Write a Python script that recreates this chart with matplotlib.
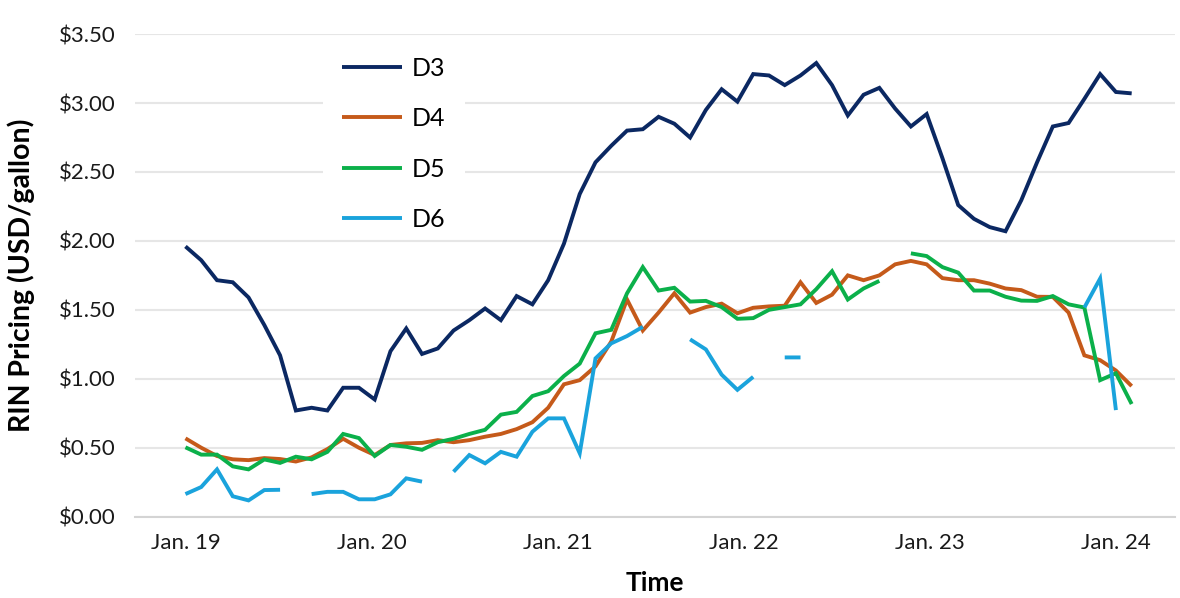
import numpy as np
import matplotlib
matplotlib.use("Agg")
import matplotlib.pyplot as plt
from matplotlib.patches import Rectangle

nan = np.nan

# monthly RIN prices, Jan 2019 .. Jan 2024 (USD/gallon)
d3 = [1.96, 1.86, 1.715, 1.70, 1.59, 1.39, 1.17, 0.77, 0.79, 0.77,
      0.935, 0.935, 0.85, 1.20, 1.365, 1.18, 1.22, 1.35, 1.425, 1.51,
      1.425, 1.60, 1.54, 1.715, 1.98, 2.34, 2.57, 2.69, 2.80, 2.81,
      2.90, 2.85, 2.75, 2.95, 3.10, 3.01, 3.21, 3.20, 3.13, 3.20,
      3.29, 3.13, 2.91, 3.06, 3.11, 2.96, 2.83, 2.92, 2.60, 2.26,
      2.16, 2.10, 2.07, 2.295, 2.57, 2.83, 2.855, 3.03, 3.21, 3.08,
      3.07]
d4 = [0.568, 0.50, 0.44, 0.416, 0.41, 0.425, 0.418, 0.40, 0.43, 0.49,
      0.565, 0.50, 0.447, 0.52, 0.532, 0.535, 0.555, 0.54, 0.555, 0.58,
      0.60, 0.635, 0.685, 0.79, 0.96, 0.99, 1.09, 1.27, 1.575, 1.35,
      1.48, 1.62, 1.48, 1.52, 1.545, 1.475, 1.515, 1.525, 1.53, 1.70,
      1.55, 1.61, 1.75, 1.715, 1.75, 1.83, 1.855, 1.83, 1.73, 1.715,
      1.715, 1.69, 1.655, 1.643, 1.595, 1.594, 1.48, 1.17, 1.135, 1.06,
      0.947]
d5 = [0.503, 0.45, 0.45, 0.365, 0.343, 0.415, 0.39, 0.435, 0.416, 0.47,
      0.60, 0.57, 0.44, 0.52, 0.507, 0.485, 0.54, 0.565, 0.60, 0.63,
      0.74, 0.76, 0.875, 0.91, 1.02, 1.11, 1.33, 1.355, 1.62, 1.81,
      1.64, 1.66, 1.56, 1.565, 1.52, 1.435, 1.44, 1.50, 1.52, 1.54,
      1.65, 1.78, 1.575, 1.655, 1.71, nan, 1.91, 1.89, 1.81, 1.77,
      1.64, 1.64, 1.595, 1.567, 1.565, 1.60, 1.54, 1.517, 0.99, 1.04,
      0.817]
d6 = [0.164, 0.215, 0.343, 0.148, 0.118, 0.193, 0.195, nan, 0.164, 0.18,
      0.18, 0.126, 0.126, 0.162, 0.278, 0.254, nan, 0.326, 0.447, 0.387,
      0.47, 0.435, 0.616, 0.713, 0.713, 0.46, 1.148, 1.257, 1.31, 1.377,
      nan, nan, 1.286, 1.213, 1.03, 0.92, 1.014, nan, 1.155, 1.155,
      nan, nan, nan, nan, nan, nan, nan, nan, nan, nan,
      nan, nan, nan, nan, nan, nan, nan, 1.517, 1.727, 0.773,
      nan]

series = ["D3", "D4", "D5", "D6"]
colors = ["#0b2862", "#c55a1a", "#0bb04a", "#1aa3dc"]
tick_labels = ["Jan. 19", "Jan. 20", "Jan. 21", "Jan. 22", "Jan. 23", "Jan. 24"]
tick_pos = [0, 11.8, 23.6, 35.4, 47.2, 59.0]
y_ticks = [0, 0.5, 1.0, 1.5, 2.0, 2.5, 3.0, 3.5]

plt.rcParams['font.family'] = ['Lato', 'DejaVu Sans']

fig = plt.figure(figsize=(11.8, 5.98), dpi=100)
ax = fig.add_axes([0.1144, 0.136, 0.8814, 0.807])

months = np.arange(len(d3))
for name, vals, c in zip(series, [d3, d4, d5, d6], colors):
    ax.plot(months, vals, color=c, lw=2.8, label=name, solid_capstyle="butt",
            solid_joinstyle="miter", zorder=3)

ax.set_xlim(-3.2, 62.75)
ax.set_ylim(0, 3.5)
ax.set_yticks(y_ticks)
ax.set_yticklabels([f"${v:.2f}" for v in y_ticks])
ax.set_xticks(tick_pos)
ax.set_xticklabels(tick_labels)
ax.tick_params(axis="both", length=0, labelsize=16, colors="#1a1a1a")
ax.tick_params(axis="y", pad=14)
ax.tick_params(axis="x", pad=12)

ax.grid(axis="y", color="#e6e6e6", lw=1.5, zorder=0)
ax.set_axisbelow(True)
for s in ["top", "right", "left"]:
    ax.spines[s].set_visible(False)
ax.spines["bottom"].set_color("#d4d4d4")
ax.spines["bottom"].set_linewidth(1.5)

ax.set_ylabel("RIN Pricing (USD/gallon)", fontsize=20.5, fontweight="bold")
ax.yaxis.set_label_coords(-0.096, 0.5)
ax.set_xlabel("Time", fontsize=19, fontweight="bold", labelpad=13)

# white block behind the legend hides the gridlines there
ax.add_patch(Rectangle((0.181, 0.594), 0.1365, 0.373, transform=ax.transAxes,
                       facecolor="white", edgecolor="none", zorder=1))

leg = ax.legend(loc="upper left", bbox_to_anchor=(0.177, 1.0), fontsize=18,
                frameon=False, handlelength=2.4, handletextpad=0.4,
                labelspacing=1.1, borderpad=0.4)
leg.set_zorder(5)

fig.savefig("out.png", dpi=100)
